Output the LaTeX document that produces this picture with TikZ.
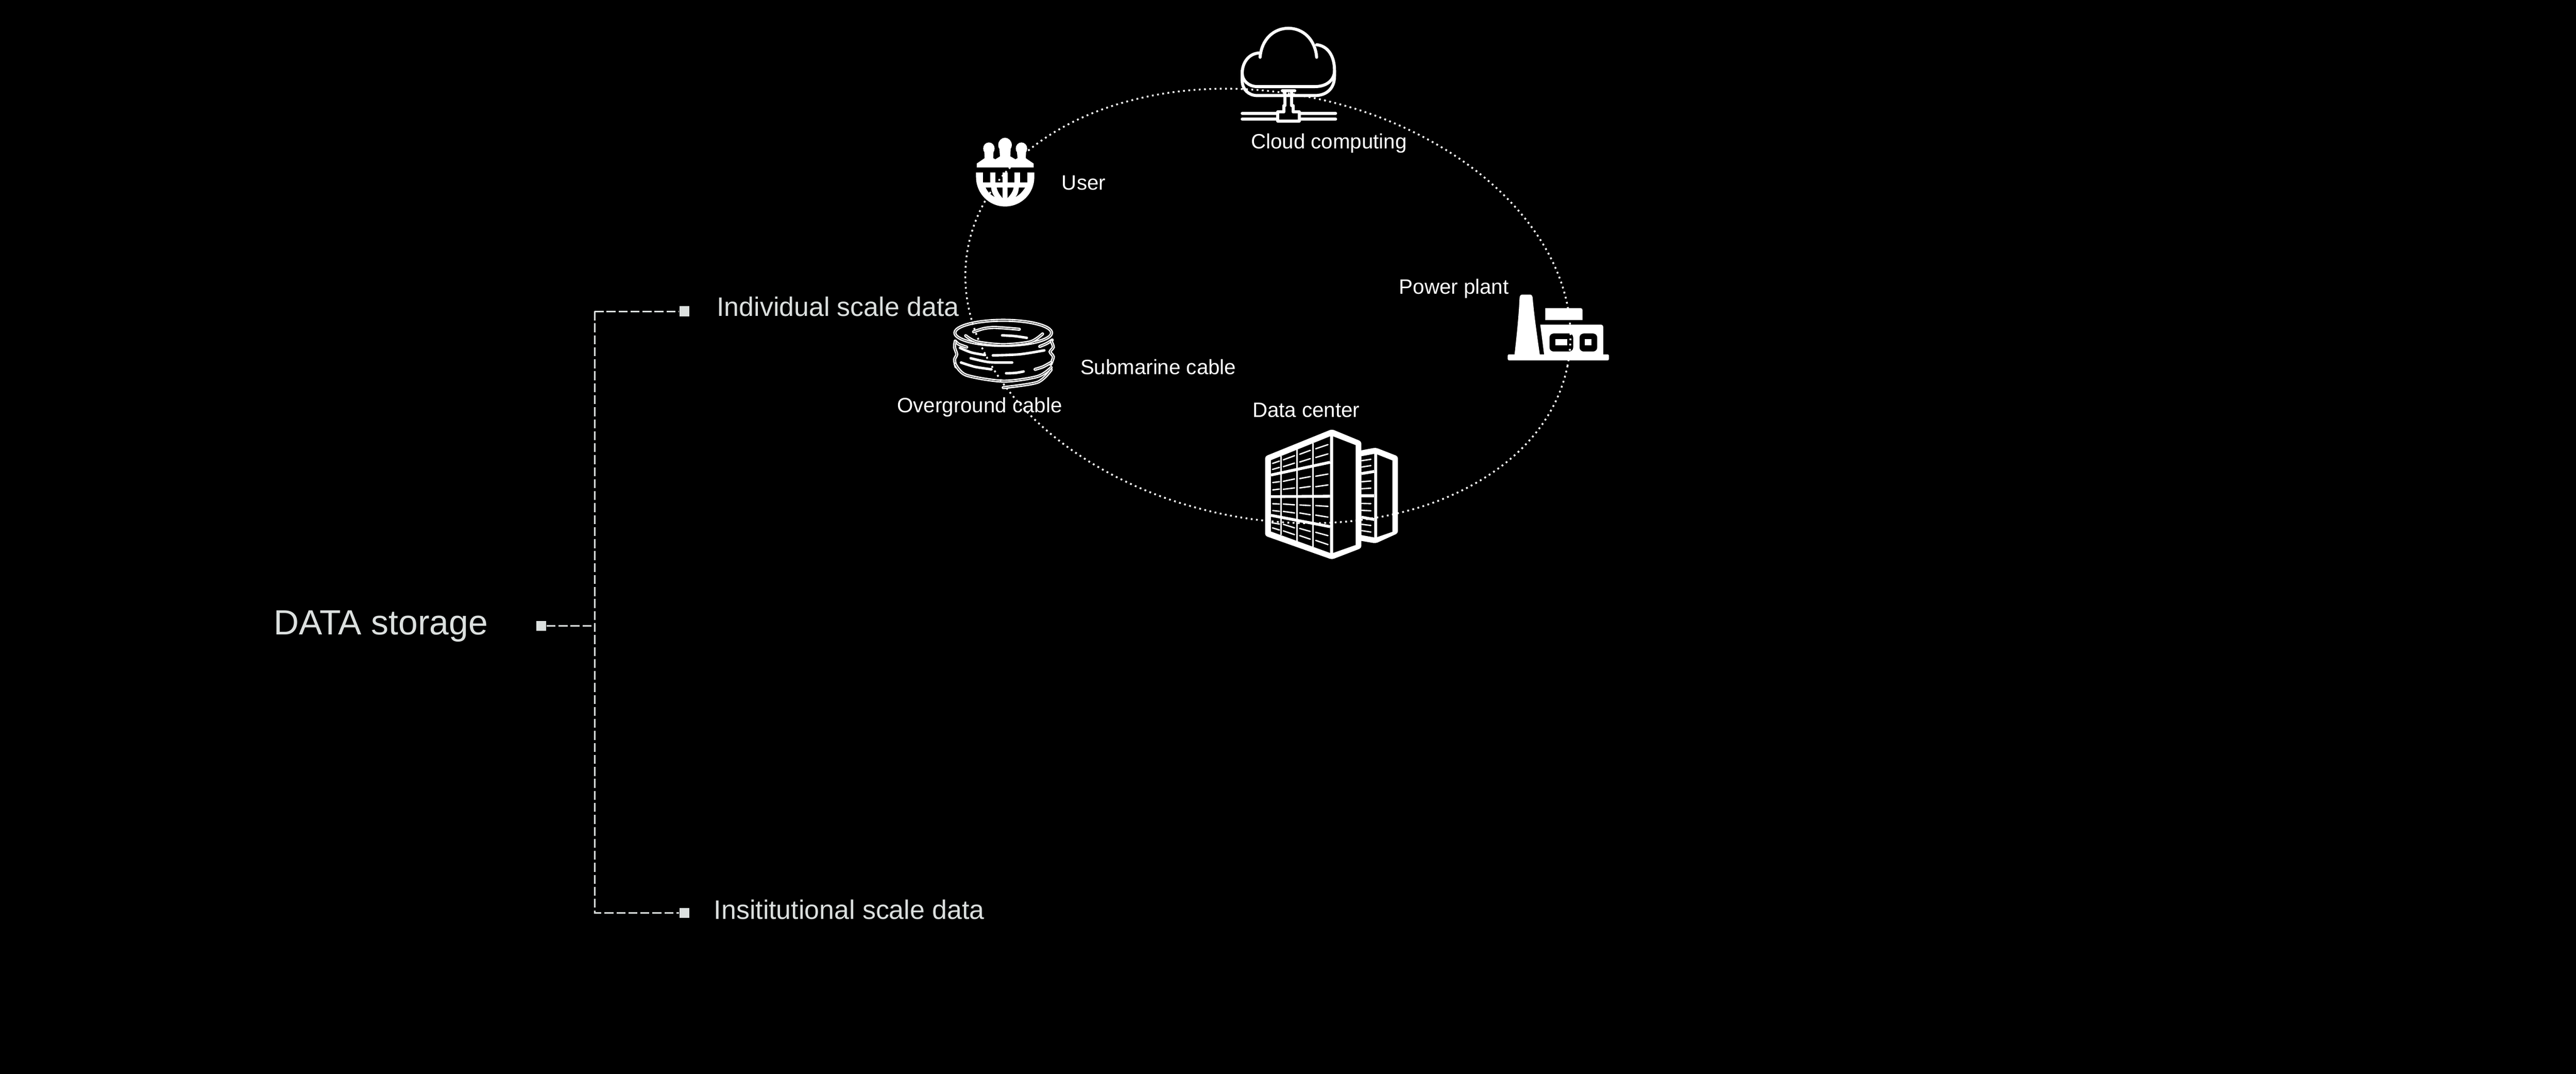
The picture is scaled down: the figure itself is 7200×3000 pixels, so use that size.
\documentclass[tikz,border=0pt]{standalone}
\usepackage{fontspec}
\setmainfont{Liberation Sans}
\usetikzlibrary{positioning}
\definecolor{dustgrey}{HTML}{DCE0DF}
\tikzset{%
   bigtext/.style={anchor=base west, inner sep=0pt, text=dustgrey, font=\fontsize{21.25}{25}\selectfont},
   roottext/.style={anchor=base west, inner sep=0pt, text=dustgrey, font=\fontsize{27.8}{34}\selectfont},
   smalltext/.style={anchor=base west, inner sep=0pt, text=white, font=\fontsize{16.5}{20}\selectfont},
   branchdot/.style={rectangle, inner sep=0pt, minimum size=2.8mm, fill=dustgrey},
   branchline/.style={draw=dustgrey, line width=.4mm, dash pattern=on 2.5mm off .85mm},
   ringline/.style={draw=white, line width=.5mm, dash pattern=on .5mm off .97mm},
   iconline/.style={draw=white, line width=.85mm, line cap=round, line join=round},
   cablepipe/.style={draw=white, line width=.38mm, double=black, double distance=.12mm, line cap=round},
   cablebar/.style={draw=white, line width=.7mm, line cap=round},
   rackbar/.style={draw=white, line width=.8mm},
   rackpost/.style={draw=white, line width=.45mm},
   rackslot/.style={draw=white, line width=.38mm, line cap=round},
}
\begin{document}
\begin{tikzpicture}[x=.1mm, y=-.1mm]
   \useasboundingbox (0,0) rectangle (7200,3000);
   \fill[black] (-20,-20) rectangle (7220,3020);

   % storage tree
   \node[roottext] (rootlabel) at (764,1773) {DATA storage};
   \node[branchdot] (rootdot) at (1513,1749) {};
   \node[branchdot] (topdot) at (1913,870) {};
   \node[branchdot] (botdot) at (1913,2551) {};
   \node[bigtext] (toplabel) at (2003,883) {Individual scale data};
   \node[bigtext] (botlabel) at (1995,2568) {Insititutional scale data};
   \coordinate (topbend) at (1662,870);
   \coordinate (botbend) at (1662,2551);
   \coordinate (rootjoin) at (1662,1749);
   \draw[branchline] (topbend) -- (topdot.west);
   \draw[branchline] (topbend) -- (botbend) -- (botdot.west);
   \draw[branchline] (rootdot.east) -- (rootjoin);

   % cloud
   \draw[iconline] (3522,160) .. controls (3526,110) and (3560,79) .. (3601,79) .. controls (3642,79) and (3676,110) .. (3680,160);
   \draw[iconline] (3519,148) .. controls (3490,150) and (3472,175) .. (3472,205) .. controls (3472,225) and (3490,242) .. (3514,242) -- (3675,242) .. controls (3710,242) and (3730,222) .. (3730,197) .. controls (3730,155) and (3710,128) .. (3680,125);
   \draw[iconline] (3472,197) -- (3472,225) .. controls (3472,250) and (3490,267) .. (3514,267) -- (3675,267) .. controls (3710,267) and (3730,245) .. (3730,213) -- (3730,197);
   \draw[iconline] (3584,254) -- (3619,254);
   \draw[iconline] (3591,254) -- (3591,295) -- (3588,295) -- (3588,313) -- (3571,313) -- (3571,338) -- (3632,338) -- (3632,313) -- (3615,313) -- (3615,295) -- (3610,295) -- (3610,254);
   \foreach \railY in {317,333} {
      \draw[iconline] (3472,\railY) -- (3570,\railY);
      \draw[iconline] (3632,\railY) -- (3733,\railY);
   }
   \node[smalltext] (cloudlabel) at (3496,415) {Cloud computing};

   % user
   \fill[white] (2764,415) ellipse [x radius=16, y radius=17];
   \fill[white] (2809,405) ellipse [x radius=19, y radius=20];
   \fill[white] (2855,415) ellipse [x radius=16, y radius=17];
   \fill[white] (2730,468) -- (2730,457) -- (2752,442) -- (2751,420) -- (2777,420) -- (2776,442) -- (2782,445) -- (2795,437) -- (2793,410) -- (2825,410) -- (2824,437) -- (2838,445) -- (2844,442) -- (2842,420) -- (2868,420) -- (2867,442) -- (2889,457) -- (2889,468) -- cycle;
   \fill[white] (2728,482) -- (2891,482) -- (2891,495) .. controls (2891,540) and (2855,577) .. (2809,577) .. controls (2764,577) and (2728,540) .. (2728,495) -- cycle;
   \foreach \holeL/\holeR in {2748/2767,2782/2802,2816/2836,2851/2872} {
      \fill[black] (\holeL,481) rectangle (\holeR,510);
   }
   \fill[black] (2755,524) -- (2770,524) .. controls (2771,535) and (2775,545) .. (2780,550) .. controls (2768,544) and (2760,535) .. cycle;
   \fill[black] (2786,524) -- (2802,524) -- (2802,553) .. controls (2795,545) and (2788,535) .. cycle;
   \fill[black] (2816,524) -- (2833,524) .. controls (2831,535) and (2824,545) .. (2816,553) -- cycle;
   \fill[black] (2848,524) -- (2865,524) .. controls (2858,535) and (2850,544) .. (2839,550) .. controls (2844,545) and (2847,535) .. cycle;
   \node[smalltext] (userlabel) at (2967,531) {User};

   % cable
   \draw[cablepipe] (2804,930) ellipse [x radius=135, y radius=35];
   \draw[cablepipe] plot[smooth] coordinates {(2699,938) (2730,955) (2804,963) (2880,955) (2914,933)};
   \draw[cablepipe] plot[smooth] coordinates {(2721,927) (2750,918) (2782,915) (2849,920)};
   \draw[cablepipe] plot[smooth] coordinates {(2670,953) (2680,962) (2702,970)};
   \draw[cablepipe] plot[smooth] coordinates {(2941,950) (2925,960) (2906,968)};
   \draw[cablepipe] plot[smooth] coordinates {(2670,953) (2668,970) (2674,990) (2668,1005) (2672,1025)};
   \draw[cablepipe] plot[smooth] coordinates {(2938,953) (2944,970) (2935,983) (2944,997) (2937,1018)};
   \draw[cablepipe] plot[smooth] coordinates {(2937,1013) (2915,1025) (2893,1032)};
   \draw[cablepipe] plot[smooth] coordinates {(2670,1017) (2700,1048) (2804,1065) (2900,1052) (2938,1027)};
   \draw[cablepipe] plot[smooth] coordinates {(2938,1033) (2900,1068) (2804,1083)};
   \foreach \barA/\barB/\barC/\barD/\barE/\barF in {%
      2801/937/2835/939/2870/944, 2683/972/2715/985/2753/992, 2775/993/2850/990/2919/979,
      2713/1001/2765/1012/2829/1013, 2686/1013/2725/1025/2771/1032, 2812/1043/2838/1042/2861/1038} {
      \draw[cablebar] plot[smooth] coordinates {(\barA,\barB) (\barC,\barD) (\barE,\barF)};
   }
   \node[smalltext] (sealabel) at (3019,1046) {Submarine cable};
   \node[smalltext] (groundlabel) at (2507,1153) {Overground cable};

   % data center
   \node[smalltext] (centerlabel) at (3500,1166) {Data center};
   \begin{scope}[shift={(3450,1090)}, scale=.3333]
      \fill[white, rounded corners=.6mm] (1040,510) -- (1185,482) -- (1372,555) -- (1372,1200) -- (1185,1285) -- (1040,1260) -- cycle;
      \fill[black] (1065,555) -- (1173,535) -- (1173,1235) -- (1065,1215) -- cycle;
      \fill[black] (1198,540) -- (1325,590) -- (1325,1188) -- (1198,1232) -- cycle;
      \draw[rackbar] (1065,700) -- (1173,682);
      \draw[rackbar] (1065,885) -- (1173,885);
      \draw[rackbar] (1065,1065) -- (1173,1085);
      \foreach \slotA/\slotB/\slotC/\slotD in {%
         1068/592/1145/580, 1068/645/1145/633, 1068/768/1145/762, 1068/827/1145/822,
         1068/950/1145/952, 1068/1008/1145/1012, 1068/1125/1145/1135, 1068/1178/1145/1190} {
         \draw[rackslot] (\slotA,\slotB) -- (\slotC,\slotD);
      }
      \fill[white, rounded corners=.6mm] (258,555) -- (818,328) -- (1065,430) -- (1065,1325) -- (818,1420) -- (258,1222) -- cycle;
      \fill[black] (307,588) -- (803,388) -- (803,1365) -- (307,1185) -- cycle;
      \fill[black] (828,388) -- (1018,462) -- (1018,1298) -- (828,1365) -- cycle;
      \draw[rackpost] (393,553) -- (393,1216);
      \draw[rackpost] (527,499) -- (527,1265);
      \draw[rackpost] (660,446) -- (660,1314);
      \draw[rackbar] (307,712) -- (803,605);
      \draw[rackbar] (307,893) -- (803,890);
      \draw[rackbar] (307,1050) -- (803,1145);
      \foreach \slotA/\slotB/\slotC/\slotD in {%
         320/615/378/595, 320/665/378/648, 410/585/505/550, 410/642/505/612,
         548/538/637/505, 548/603/637/575, 682/492/785/457, 682/565/785/535,
         322/775/378/768, 322/837/378/830, 410/765/505/745, 410/832/505/820,
         548/742/637/725, 548/820/637/808, 682/722/785/704, 682/810/785/795,
         322/953/378/955, 322/1010/378/1016, 410/955/505/962, 410/1017/505/1030,
         548/963/637/968, 548/1030/637/1045, 682/968/785/975, 682/1048/785/1065,
         315/1112/378/1123, 320/1155/378/1173, 410/1125/505/1155, 410/1180/505/1212,
         548/1160/637/1185, 548/1220/637/1250, 682/1192/785/1220, 682/1260/785/1295} {
         \draw[rackslot] (\slotA,\slotB) -- (\slotC,\slotD);
      }
   \end{scope}

   % power plant
   \node[smalltext] (plantlabel) at (3910,822) {Power plant};
   \fill[white, rounded corners=.4mm] (4214,990) rectangle (4497,1007);
   \fill[white] (4233,992) .. controls (4240,930) and (4245,880) .. (4247,835) .. controls (4247,827) and (4250,823) .. (4255,823) -- (4276,823) .. controls (4281,823) and (4284,827) .. (4284,835) .. controls (4288,880) and (4295,930) .. (4304,992) -- cycle;
   \fill[white] (4319,894) -- (4319,861) [rounded corners=.5mm] -- (4423,861) [sharp corners] -- (4423,894) -- cycle;
   \fill[white] (4305,907) [rounded corners=.6mm] -- (4481,907) [sharp corners] -- (4481,992) -- (4316,992) -- cycle;
   \fill[black, rounded corners=1.1mm] (4331,932) rectangle (4397,982);
   \fill[black, rounded corners=1.1mm] (4415,932) rectangle (4464,982);
   \fill[white] (4347,948) rectangle (4381,965);
   \fill[white] (4430,948) rectangle (4448,965);

   % ring through the icons
   \coordinate (ringmid) at (3544,855);
   \draw[ringline, rotate around={-11.25:(ringmid)}] (ringmid) ellipse [x radius=854, y radius=595];
\end{tikzpicture}
\end{document}
